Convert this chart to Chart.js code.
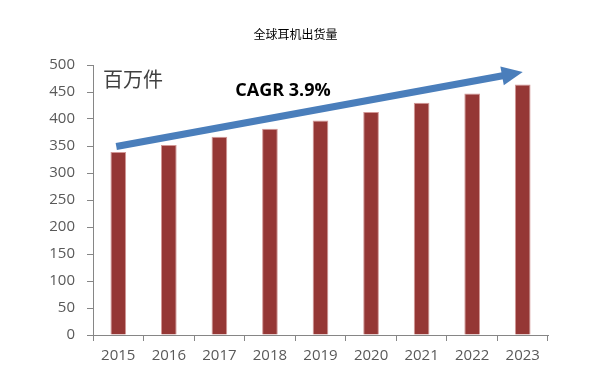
<!DOCTYPE html>
<html>
<head>
<meta charset="utf-8">
<script src="https://cdn.jsdelivr.net/npm/chart.js@4/dist/chart.umd.min.js"></script>
<style>
  html, body { margin: 0; padding: 0; background: #fff; }
  #wrap { width: 603px; height: 383px; }
</style>
</head>
<body>
<div id="wrap"><canvas id="chart"></canvas></div>
<script>
// shipments, million units
var years = ['2015', '2016', '2017', '2018', '2019', '2020', '2021', '2022', '2023'];
var shipments = [339, 352, 367, 382, 397, 413, 430, 447, 464];
var yTicks = [0, 50, 100, 150, 200, 250, 300, 350, 400, 450, 500];

// trend arrow, from first to last year
var arrowYears = ['2015', '2023'];
var arrowValues = [349, 487];
var titleText = '全球耳机出货量';
var cagrLabel = 'CAGR 3.9%';
var unitLabel = '百万件';

var axisColor = '#868686';
var labelColor = '#595959';

var arrowPlugin = {
    id: 'arrow',
    afterDatasetsDraw: function (chart) {
        var ctx = chart.ctx;
        var xs = chart.scales.x, ys = chart.scales.y;
        var x0 = xs.getPixelForValue(years.indexOf(arrowYears[0])) - 2;
        var y0 = ys.getPixelForValue(arrowValues[0]);
        var x1 = xs.getPixelForValue(years.indexOf(arrowYears[1]));
        var y1 = ys.getPixelForValue(arrowValues[1]);
        var ang = Math.atan2(y1 - y0, x1 - x0);
        var headLen = 21, headW = 9.5;
        var bx = x1 - headLen * Math.cos(ang), by = y1 - headLen * Math.sin(ang);

        ctx.save();
        ctx.strokeStyle = '#4a7ebb';
        ctx.fillStyle = '#4a7ebb';
        ctx.lineWidth = 7;
        ctx.beginPath();
        ctx.moveTo(x0, y0);
        ctx.lineTo(bx + 2 * Math.cos(ang), by + 2 * Math.sin(ang));
        ctx.stroke();
        ctx.beginPath();
        ctx.moveTo(x1, y1);
        ctx.lineTo(bx + headW * Math.sin(ang), by - headW * Math.cos(ang));
        ctx.lineTo(bx - headW * Math.sin(ang), by + headW * Math.cos(ang));
        ctx.closePath();
        ctx.fill();

        // labels
        ctx.fillStyle = '#000';
        ctx.font = 'bold 18px "Open Sans", "Liberation Sans", sans-serif';
        ctx.textAlign = 'center';
        ctx.textBaseline = 'middle';
        ctx.fillText(cagrLabel, chart.chartArea.left + 190, ys.getPixelForValue(453));

        ctx.fillStyle = '#404040';
        ctx.font = '20px "Noto Sans CJK SC", sans-serif';
        ctx.textAlign = 'left';
        ctx.fillText(unitLabel, chart.chartArea.left + 10, ys.getPixelForValue(474));

        // title
        ctx.fillStyle = '#000';
        ctx.font = '12px "Noto Sans CJK SC", sans-serif';
        ctx.textAlign = 'center';
        ctx.fillText(titleText, chart.width / 2 - 6, 34);
        ctx.restore();
    }
};

var chart = new Chart(document.getElementById('chart'), {
    type: 'bar',
    data: {
        labels: years,
        datasets: [{
            data: shipments,
            backgroundColor: '#953735',
            borderColor: 'rgba(205, 140, 138, 0.9)',
            borderWidth: 1,
            categoryPercentage: 1.0,
            barPercentage: 0.31
        }]
    },
    options: {
        responsive: true,
        maintainAspectRatio: false,
        animation: false,
        layout: { padding: { left: 0, right: 55, top: 65, bottom: 0 } },
        plugins: {
            legend: { display: false },
            tooltip: { enabled: false },
            title: { display: false }
        },
        scales: {
            x: {
                grid: { drawOnChartArea: false, color: axisColor, tickLength: 6, offset: true },
                border: { color: axisColor },
                ticks: {
                    color: labelColor,
                    padding: 6,
                    font: { size: 15, family: '"Open Sans", sans-serif' }
                },
                afterFit: function (scale) { scale.height = 48; }
            },
            y: {
                min: 0,
                max: 500,
                afterBuildTicks: function (scale) {
                    scale.ticks = yTicks.map(function (v) { return { value: v }; });
                },
                grid: { drawOnChartArea: false, color: axisColor, tickLength: 6 },
                border: { color: axisColor },
                ticks: {
                    color: labelColor,
                    padding: 12,
                    font: { size: 15, family: '"Open Sans", sans-serif' }
                },
                afterFit: function (scale) { scale.width = 93; }
            }
        }
    },
    plugins: [arrowPlugin]
});
</script>
</body>
</html>
